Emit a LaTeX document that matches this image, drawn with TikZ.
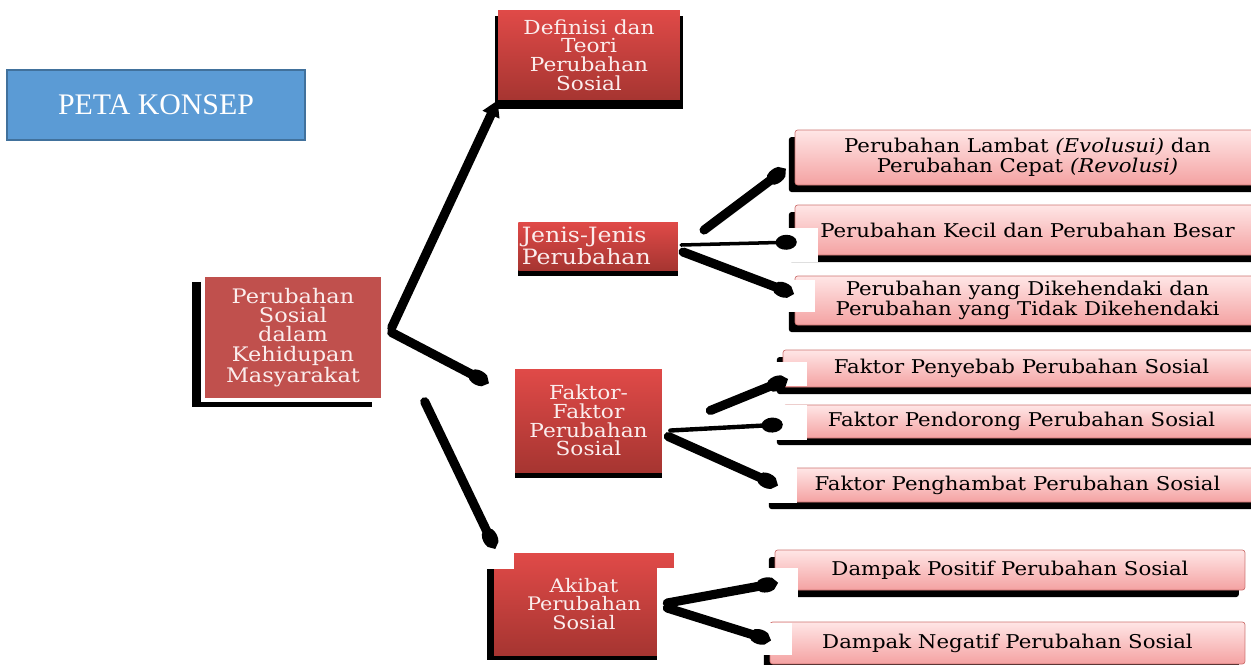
\documentclass[tikz,border=0pt]{standalone}
\usepackage{fontspec}
\usepackage{tikz}
\usetikzlibrary{arrows.meta,shadows}
\setmainfont[FakeStretch=1.12]{DejaVu Serif}
\newfontfamily\petafont{Liberation Serif}
\definecolor{biru}{HTML}{5B9BD5}
\definecolor{birutua}{HTML}{41719C}
\definecolor{merah}{HTML}{C0504D}
\definecolor{merahatas}{HTML}{E04A48}
\definecolor{merahbawah}{HTML}{A63531}
\definecolor{pinkatas}{HTML}{FFE6E6}
\definecolor{pinkbawah}{HTML}{F4A2A2}
\definecolor{tekspink}{HTML}{FBEDED}

\begin{document}
\begin{tikzpicture}[
    x=0.02cm, y=-0.02cm,
    judul/.style={rectangle, draw=birutua, line width=1.2pt, fill=biru, text=white,
                  minimum width=5.96cm, minimum height=1.4cm,
                  font=\petafont\fontsize{17}{20}\selectfont},
    induk/.style={rectangle, fill=merah, draw=white, line width=2pt, text=tekspink,
                  align=center, font=\fontsize{11.4}{11}\selectfont,
                  general shadow={fill=black, shadow xshift=-6pt, shadow yshift=-4pt}},
    sub/.style={rectangle, top color=merahatas, bottom color=merahbawah, text=tekspink,
                align=center, font=\fontsize{11}{10.7}\selectfont, inner sep=2pt},
    rinci/.style={rectangle, rounded corners=1.5pt, draw=merah!80, top color=pinkatas,
                  bottom color=pinkbawah, text=black, align=center, inner sep=1pt,
                  font=\fontsize{10.8}{11.4}\selectfont,
                  general shadow={fill=black, shadow xshift=-3.5pt, shadow yshift=-4pt}},
    tambal/.style={fill=white},
    panah/.style={line width=5.2pt, line cap=round, -{Ellipse[length=12pt,width=8.5pt]}},
]
\useasboundingbox (0,0) rectangle (1251,664);

\node[judul] (peta) at (156,105) {PETA KONSEP};

% induk dan sub-topik
\node[induk, minimum width=3.6cm, minimum height=2.5cm] (root) at (293,337.5)
    {Perubahan\\Sosial\\dalam\\Kehidupan\\Masyarakat};
\node[sub, minimum width=3.64cm, minimum height=1.8cm,
      general shadow={fill=black, shadow scale=1.03, shadow yshift=-4pt}] (defi) at (589,55)
    {Definisi dan\\Teori\\Perubahan\\Sosial};
\node[sub, minimum width=3.16cm, minimum height=0.96cm, text width=3.05cm, align=left,
      font=\fontsize{12}{10.5}\selectfont,
      general shadow={fill=black, shadow yshift=-3.5pt}] (jenis) at (598,246)
    {Jenis-Jenis\\Perubahan};
\node[sub, minimum width=2.94cm, minimum height=2.06cm,
      general shadow={fill=black, shadow yshift=-3.5pt}] (faktor) at (588.5,420.5)
    {Faktor-\\Faktor\\Perubahan\\Sosial};
\node[sub, minimum width=3.6cm, minimum height=2.04cm, font=\fontsize{10.6}{10.5}\selectfont,
      general shadow={fill=black, shadow xshift=-4pt, shadow yshift=-3pt}] (akibat) at (584,604)
    {Akibat\\Perubahan\\Sosial};
\fill[tambal] (657,568) rectangle (797,664);
\fill[tambal] (478,538) rectangle (514,569);

% rincian
\node[rinci, minimum width=9.3cm, minimum height=1.1cm] (r1) at (1027.5,157.5)
    {Perubahan Lambat \textit{(Evolusui)} dan\\Perubahan Cepat \textit{(Revolusi)}};
\node[rinci, minimum width=9.3cm, minimum height=1.0cm] (r2) at (1027.5,230)
    {Perubahan Kecil dan Perubahan Besar};
\node[rinci, minimum width=9.3cm, minimum height=0.98cm] (r3) at (1027.5,300.5)
    {Perubahan yang Dikehendaki dan\\Perubahan yang Tidak Dikehendaki};
\node[rinci, minimum width=9.54cm, minimum height=0.74cm] (r4) at (1021.5,368.5)
    {Faktor Penyebab Perubahan Sosial};
\node[rinci, minimum width=9.54cm, minimum height=0.66cm] (r5) at (1021.5,421.5)
    {Faktor Pendorong Perubahan Sosial};
\node[rinci, minimum width=9.7cm, minimum height=0.68cm] (r6) at (1017.5,485)
    {Faktor Penghambat Perubahan Sosial};
\node[rinci, minimum width=9.4cm, minimum height=0.8cm] (r7) at (1010,570)
    {Dampak Positif Perubahan Sosial};
\node[rinci, minimum width=9.5cm, minimum height=0.84cm] (r8) at (1007.5,643)
    {Dampak Negatif Perubahan Sosial};

\fill[tambal] (780,228) rectangle (818,262);
\fill[tambal] (780,280) rectangle (815,312);
\fill[tambal] (775,362) rectangle (807,386);
\fill[tambal] (775,405) rectangle (807,440);
\fill[tambal] (762,466) rectangle (797,503);
\fill[tambal] (762,568) rectangle (798,600);
\fill[tambal] (762,623) rectangle (792,655);

% penghubung
\draw[panah, -{Triangle[length=9pt,width=10pt]}] ([shift={(7,-10)}]root.east) -- (defi.south west);
\draw[panah] ([shift={(7,-5)}]root.east) -- ([shift={(-27,14)}]faktor.north west);
\draw[panah] ([shift={(40,0)}]root.south east) -- ([shift={(1,-5)}]akibat.north west);

\draw[panah] ([shift={(26,-16)}]jenis.east) -- ([shift={(-10,12)}]r1.west);
\draw[panah, line width=2pt] ([shift={(3,-1)}]jenis.east) -- ([shift={(2,12)}]r2.west);
\draw[panah] ([shift={(5,6)}]jenis.east) -- ([shift={(-2,-7)}]r3.west);

\draw[panah] ([shift={(48,-10)}]faktor.east) -- ([shift={(4,11)}]r4.west);
\draw[panah, line width=2.5pt] ([shift={(8,10)}]faktor.east) -- ([shift={(0,3)}]r5.west);
\draw[panah] ([shift={(6,16)}]faktor.east) -- ([shift={(2,0)}]r6.west);

\draw[panah] ([shift={(-7,-1)}]akibat.east) -- ([shift={(2,13)}]r7.west);
\draw[panah] ([shift={(-7,4)}]akibat.east) -- ([shift={(0,-3)}]r8.west);
\end{tikzpicture}
\end{document}
